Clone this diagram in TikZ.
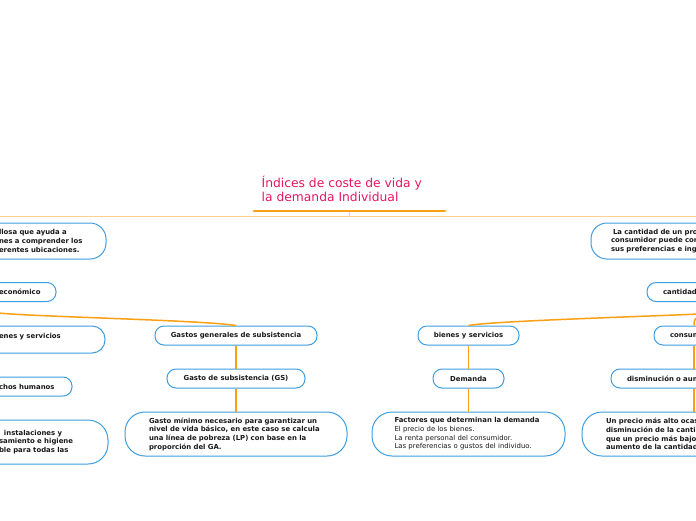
\documentclass[tikz,border=0pt]{standalone}
\usepackage{fontspec}
\setmainfont{DejaVu Sans}
\definecolor{bordc}{RGB}{62,158,224}
\definecolor{orng}{RGB}{250,160,20}
\definecolor{lorng}{RGB}{252,208,145}
\definecolor{ttl}{RGB}{228,23,96}
\definecolor{txt}{RGB}{25,25,25}
\tikzset{
  box/.style={draw=bordc, line width=1pt, fill=white, inner sep=0pt, text=txt,
    font=\fontsize{6.9}{8.7}\selectfont\bfseries},
  rsm/.style={rounded corners=9pt, minimum height=19pt},
  rbig/.style={rounded corners=20pt, minimum height=44pt},
  rtop/.style={rounded corners=16pt, minimum height=36pt},
  conn/.style={draw=orng, line width=1.5pt},
}
\begin{document}
\begin{tikzpicture}[x=1pt, y=-1pt]
\useasboundingbox (0,0) rectangle (696,520);
\clip (0,0) rectangle (696,520);
\fill[white] (0,0) rectangle (696,520);

% title
\node[font=\fontsize{12.3}{14}\selectfont, text=ttl, align=left, anchor=north west, inner sep=0pt]
  (title) at (261.5,176) {Índices de coste de vida y\\la demanda Individual};
\coordinate (ul1) at (254,211);
\coordinate (ul2) at (445,211);
\coordinate (tk) at (349,216);
\draw[lorng, line width=1pt] (0,216) -- (696,216);
\draw[lorng, line width=1pt] (tk) -- (tk |- ul1);
\draw[orng, line width=2.8pt, line cap=round] (ul1) -- (ul2);

% left column (cut)
\node[box, rtop, minimum width=122pt, text width=92pt, align=left] (nA) at (45,241)
  {llosa que ayuda a\\nes a comprender los\\erentes ubicaciones.};
\node[box, rsm, minimum width=66pt, text width=48pt, align=left] (nB) at (23,292) {económico};
\node[box, rounded corners=13pt, minimum width=130pt, minimum height=27pt, text width=82pt,
  align=left, text height=5pt, text depth=7pt] (nC) at (40,339.5) {enes y servicios};
\node[box, rsm, minimum width=86pt, text width=60pt, align=left] (nD) at (29,386.5) {chos humanos};
\node[box, rbig, minimum width=136pt, text width=82pt, align=left] (nE) at (40,442)
  {\hspace*{5pt}instalaciones y\\samiento e higiene\\ble para todas las};

% middle-left column
\node[box, rsm, minimum width=162pt] (nF) at (236,335.5) {Gastos generales de subsistencia};
\node[box, rsm, minimum width=138pt] (nG) at (236,378.5) {Gasto de subsistencia (GS)};
\node[box, rbig, minimum width=222pt, text width=174pt, align=left] (nH) at (236,434)
  {Gasto mínimo necesario para garantizar un\\nivel de vida básico, en este caso se calcula\\una línea de pobreza (LP) con base en la\\proporción del GA.};

% middle-right column
\node[box, rsm, minimum width=101pt] (nI) at (468.5,335.5) {bienes y servicios};
\node[box, rsm, minimum width=71pt] (nJ) at (468.5,378.5) {Demanda};
\node[box, rbig, minimum width=193pt, text width=148pt, align=left] (nK) at (468.5,434)
  {Factores que determinan la demanda\\{\mdseries El precio de los bienes.}\\{\mdseries La renta personal del consumidor.}\\{\mdseries Las preferencias o gustos del individuo.}};

% right column (cut)
\node[box, rtop, minimum width=240pt, text width=200pt, align=left] (nL) at (711,241)
  {\hspace*{2pt}La cantidad de un pro\\consumidor puede con\\sus preferencias e ing};
\node[box, rsm, minimum width=132pt, text width=100pt, align=left] (nM) at (713,292) {cantidad};
\node[box, rsm, minimum width=132pt, text width=100pt, align=left] (nN) at (720,335.5) {consum};
\node[box, rsm, minimum width=132pt, text width=100pt, align=left] (nO) at (677,378.5) {disminución o aum};
\node[box, rbig, minimum width=248pt, text width=200pt, align=left] (nP) at (706,434)
  {Un precio más alto ocas\\disminución de la canti\\que un precio más bajo\\aumento de la cantidad};

% connectors
\coordinate (lp) at (-2,313);
\coordinate (rp) at (698,314);
\coordinate (rp2) at (699,317);
\coordinate (rx) at (694,0);
\draw[conn] (lp) .. controls (40,317) and (200,320) .. (nF.north);
\draw[conn] (rp) .. controls (660,316) and (490,321) .. (nI.north);
\draw[conn] (rp2) .. controls (694,318) and (694,322) .. (nN.north -| rx);
\draw[conn] (nN.south -| rx) -- (nO.north -| rx);
\draw[conn] (nO.south -| rx) -- (nP.north -| rx);
\draw[conn] (nF) -- (nG);
\draw[conn] (nG) -- (nH);
\draw[conn] (nI) -- (nJ);
\draw[conn] (nJ) -- (nK);
\end{tikzpicture}
\end{document}
